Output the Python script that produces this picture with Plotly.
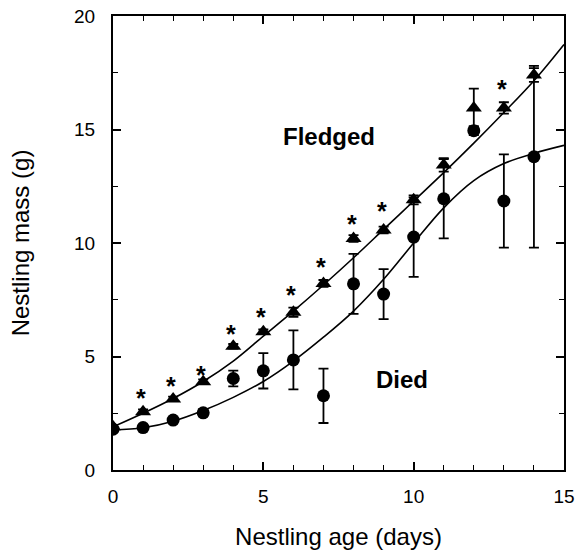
import plotly.graph_objects as go

# ---- data ----
days = list(range(15))

fledged_mass = [1.9, 2.57, 3.13, 3.89, 5.45, 6.09, 6.95, 8.22, 10.2, 10.57, 11.9, 13.44, 15.95, 15.95, 17.4]
fledged_err = [0.05, 0.1, 0.1, 0.1, 0.1, 0.1, 0.2, 0.15, 0.15, 0.15, 0.2, 0.3, 0.85, 0.25, 0.3]

died_mass = [1.8, 1.87, 2.2, 2.52, 4.03, 4.37, 4.85, 3.27, 8.2, 7.75, 10.26, 11.95, 14.95, 11.85, 13.8]
died_err = [0.05, 0.05, 0.1, 0.15, 0.35, 0.78, 1.3, 1.2, 1.32, 1.1, 1.75, 1.75, 0.2, 2.05, 4.0]

star_days = [1, 2, 3, 4, 5, 6, 7, 8, 9, 13]
star_y = [3.48, 4.0, 4.49, 6.3, 7.05, 8.0, 9.25, 11.15, 11.7, 17.1]

fit_x = list(range(16))
fledged_fit = [1.9, 2.5, 3.15, 3.9, 4.8, 5.9, 7.0, 8.15, 9.35, 10.6, 11.85, 13.1, 14.4, 15.75, 17.15, 18.75]
died_fit = [1.76, 1.86, 2.15, 2.62, 3.2, 3.9, 4.8, 5.85, 7.0, 8.4, 10.0, 11.55, 12.75, 13.5, 13.95, 14.3]

x_ticks = [0, 5, 10, 15]
y_ticks = [0, 5, 10, 15, 20]

FONT = "Liberation Sans, Arial, sans-serif"

fig = go.Figure()

fig.add_trace(go.Scatter(x=fit_x, y=fledged_fit, mode="lines", line=dict(color="black", width=1.6, shape="spline"),
                         showlegend=False, hoverinfo="skip"))
fig.add_trace(go.Scatter(x=fit_x, y=died_fit, mode="lines", line=dict(color="black", width=1.6, shape="spline"),
                         showlegend=False, hoverinfo="skip"))

fig.add_trace(go.Scatter(
    x=days, y=died_mass, mode="markers",
    marker=dict(symbol="circle", size=13, color="black"),
    error_y=dict(type="data", array=died_err, visible=True, color="black", thickness=1.8, width=5),
    showlegend=False, name="Died"))

fig.add_trace(go.Scatter(
    x=days, y=fledged_mass, mode="markers",
    marker=dict(symbol="triangle-up", size=14, color="black"),
    error_y=dict(type="data", array=fledged_err, visible=True, color="black", thickness=1.8, width=5),
    showlegend=False, name="Fledged"))

annotations = []
for d, v in zip(star_days, star_y):
    annotations.append(dict(x=d, y=v, xref="x", yref="y", text="<b>*</b>", showarrow=False,
                            xshift=-2, yshift=-7, font=dict(family=FONT, size=25, color="black")))
annotations.append(dict(x=7.18, y=14.7, xref="x", yref="y", text="<b>Fledged</b>", showarrow=False,
                        font=dict(family=FONT, size=24, color="black")))
annotations.append(dict(x=9.6, y=4.0, xref="x", yref="y", text="<b>Died</b>", showarrow=False,
                        font=dict(family=FONT, size=24, color="black")))

axis_common = dict(showline=True, linecolor="black", linewidth=2, mirror="ticks", ticks="inside",
                   tickcolor="black", tickwidth=1.5, ticklen=8, showgrid=False, zeroline=False,
                   automargin=False,
                   tickfont=dict(family=FONT, size=19, color="black"))

fig.update_layout(
    width=577, height=556,
    margin=dict(l=113, r=13, t=16, b=86),
    paper_bgcolor="white", plot_bgcolor="white",
    annotations=annotations,
    xaxis=dict(range=[0, 15], tickvals=x_ticks, ticktext=[str(t) for t in x_ticks],
               minor=dict(dtick=1, ticks="inside", ticklen=5, tickcolor="black", tickwidth=1.2),
               title=dict(text="Nestling age (days)", font=dict(family=FONT, size=24, color="black"), standoff=22),
               ticklabelstandoff=8,
               **axis_common),
    yaxis=dict(range=[0, 20], tickvals=y_ticks, ticktext=[str(t) for t in y_ticks],
               minor=dict(dtick=2.5, ticks="inside", ticklen=5, tickcolor="black", tickwidth=1.2),
               title=dict(text="Nestling mass (g)", font=dict(family=FONT, size=24, color="black"), standoff=38),
               ticklabelstandoff=12,
               **axis_common),
)

fig.write_html("out.html")
